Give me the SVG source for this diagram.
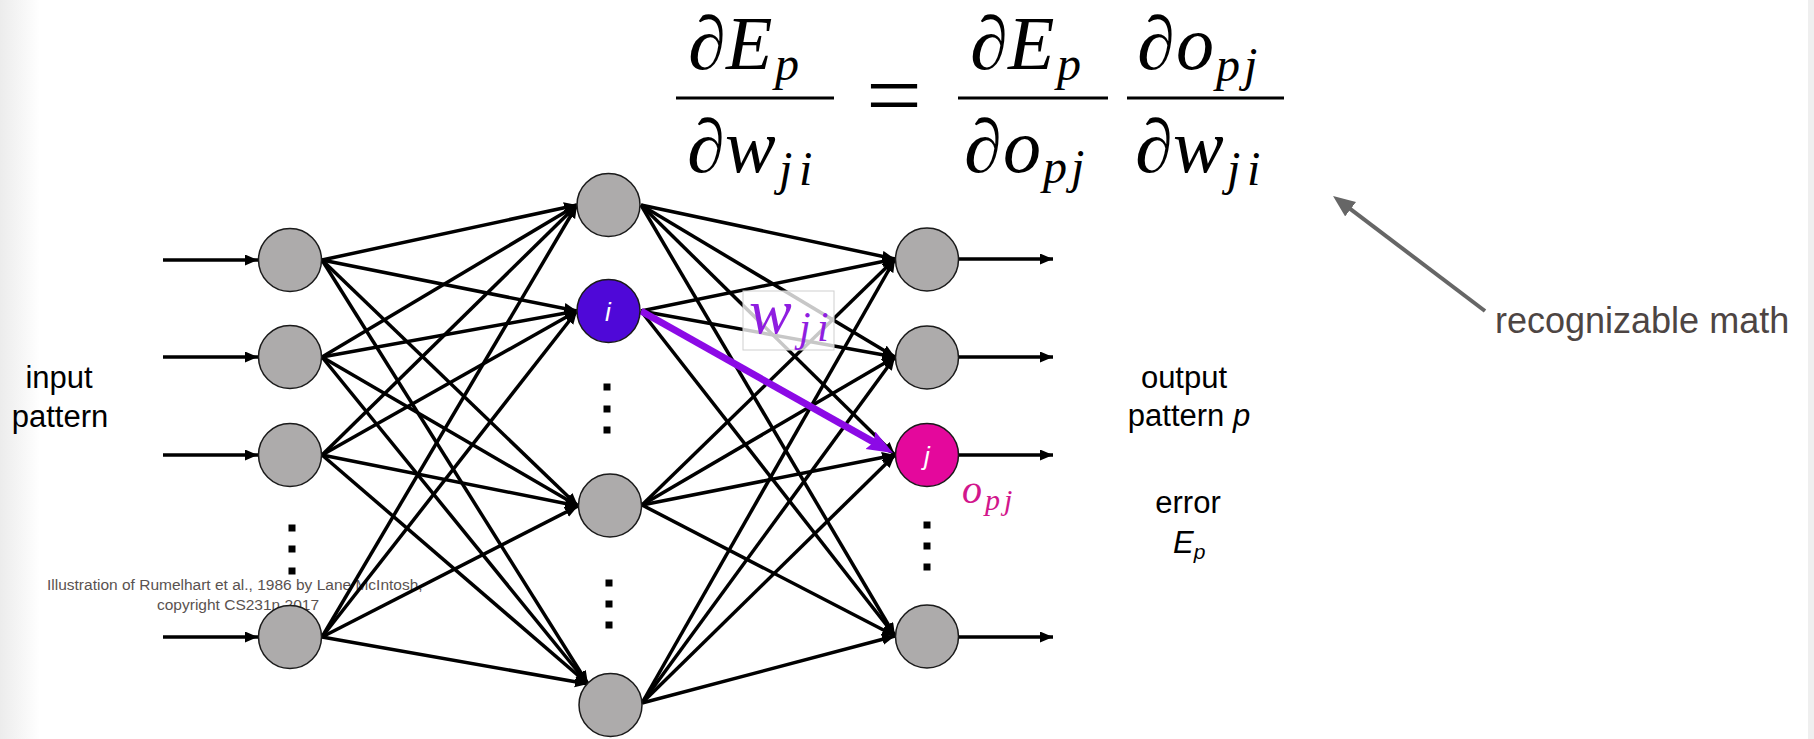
<svg xmlns="http://www.w3.org/2000/svg" width="1814" height="739" viewBox="0 0 1814 739">
<defs>
<linearGradient id="leftShade" x1="0" y1="0" x2="1" y2="0">
<stop offset="0" stop-color="#ececec"/>
<stop offset="1" stop-color="#ffffff"/>
</linearGradient>
<marker id="ah" markerUnits="userSpaceOnUse" markerWidth="14" markerHeight="12" refX="13" refY="5.5" orient="auto">
<path d="M0,0 L13,5.5 L0,11 z" fill="#000"/>
</marker>
<marker id="ahP" markerUnits="userSpaceOnUse" markerWidth="28" markerHeight="22" refX="12" refY="10" orient="auto">
<path d="M0,0 L26,10 L0,20 L4,10 z" fill="#8c0ae6"/>
</marker>
<marker id="ahG" markerUnits="userSpaceOnUse" markerWidth="24" markerHeight="20" refX="10" refY="9" orient="auto">
<path d="M0,0 L22,9 L0,18 z" fill="#666"/>
</marker>
</defs>
<style>
.bg { fill: #fff; }
.node { fill: #adabab; stroke: #1a1a1a; stroke-width: 1.5; }
.ni { fill: #4f08d8; stroke: #1a1a1a; stroke-width: 1.5; }
.nj { fill: #e4089c; stroke: #1a1a1a; stroke-width: 1.5; }
.edge { stroke: #000; stroke-width: 3.5; fill: none; marker-end: url(#ah); }
.dot { fill: #000; }
.lbl { font-family: "Liberation Sans", Arial, sans-serif; font-size: 31px; fill: #000; }
.nl { font-family: "Liberation Sans", Arial, sans-serif; font-size: 26px; font-style: italic; fill: #fff; text-anchor: middle; }
.m { font-family: "Liberation Serif", "DejaVu Serif", serif; font-style: italic; font-size: 76px; fill: #000; }
.s { font-size: 48px; }
.eq { font-family: "Liberation Serif", "DejaVu Serif", serif; font-size: 92px; fill: #000; }
.bar { fill: #000; }
.credit { font-family: "Liberation Sans", Arial, sans-serif; font-size: 15.5px; fill: #5a5250; }
.mp { font-family: "Liberation Serif", "DejaVu Serif", serif; font-style: italic; fill: #8f1ee0; }
.mo { font-family: "Liberation Serif", "DejaVu Serif", serif; font-style: italic; fill: #d2168c; }
</style>
<rect class="bg" x="0" y="0" width="1814" height="739"/>
<rect x="0" y="0" width="40" height="739" fill="url(#leftShade)"/>
<rect x="1808" y="0" width="6" height="739" fill="#efefef"/>

<g id="credit">
<text class="credit" x="47" y="590">Illustration of Rumelhart et al., 1986 by Lane McIntosh,</text>
<text class="credit" x="157" y="610">copyright CS231n 2017</text>
</g>

<g id="equation">
<text class="m"><tspan x="688" y="69">∂</tspan><tspan x="726" y="69">E</tspan><tspan class="s" x="775" y="80">p</tspan></text>
<rect class="bar" x="676" y="96.5" width="158" height="3"/>
<text class="m"><tspan x="687" y="172">∂</tspan><tspan x="725" y="172">w</tspan><tspan class="s" x="779" y="185">j</tspan><tspan class="s" x="799" y="185">i</tspan></text>

<text class="eq" x="866" y="126" textLength="56" lengthAdjust="spacingAndGlyphs">=</text>

<text class="m"><tspan x="970" y="69">∂</tspan><tspan x="1008" y="69">E</tspan><tspan class="s" x="1057" y="80">p</tspan></text>
<rect class="bar" x="958" y="96.5" width="150" height="3"/>
<text class="m"><tspan x="964" y="172">∂</tspan><tspan x="1003" y="172">o</tspan><tspan class="s" x="1043" y="183">p</tspan><tspan class="s" x="1071" y="183">j</tspan></text>

<text class="m"><tspan x="1137" y="69">∂</tspan><tspan x="1176" y="69">o</tspan><tspan class="s" x="1216" y="81">p</tspan><tspan class="s" x="1244" y="81">j</tspan></text>
<rect class="bar" x="1127" y="96.5" width="157" height="3"/>
<text class="m"><tspan x="1135" y="172">∂</tspan><tspan x="1173" y="172">w</tspan><tspan class="s" x="1227" y="185">j</tspan><tspan class="s" x="1247" y="185">i</tspan></text>
</g>

<g id="connectors">
<line class="edge" x1="163" y1="260" x2="258" y2="260"/>
<line class="edge" x1="163" y1="357" x2="258" y2="357"/>
<line class="edge" x1="163" y1="455" x2="258" y2="455"/>
<line class="edge" x1="163" y1="637" x2="258" y2="637"/>

<line class="edge" x1="322" y1="260" x2="577" y2="205"/>
<line class="edge" x1="322" y1="260" x2="577" y2="311"/>
<line class="edge" x1="322" y1="260" x2="578" y2="506"/>
<line class="edge" x1="322" y1="260" x2="588" y2="684"/>
<line class="edge" x1="322" y1="357" x2="577" y2="205"/>
<line class="edge" x1="322" y1="357" x2="577" y2="311"/>
<line class="edge" x1="322" y1="357" x2="578" y2="506"/>
<line class="edge" x1="322" y1="357" x2="588" y2="684"/>
<line class="edge" x1="322" y1="455" x2="577" y2="205"/>
<line class="edge" x1="322" y1="455" x2="577" y2="311"/>
<line class="edge" x1="322" y1="455" x2="578" y2="506"/>
<line class="edge" x1="322" y1="455" x2="588" y2="684"/>
<line class="edge" x1="322" y1="637" x2="577" y2="205"/>
<line class="edge" x1="322" y1="637" x2="577" y2="311"/>
<line class="edge" x1="322" y1="637" x2="578" y2="506"/>
<line class="edge" x1="322" y1="637" x2="588" y2="684"/>

<line class="edge" x1="641" y1="205" x2="895" y2="259"/>
<line class="edge" x1="641" y1="205" x2="895" y2="357"/>
<line class="edge" x1="641" y1="205" x2="895" y2="455"/>
<line class="edge" x1="641" y1="205" x2="895" y2="636"/>
<line class="edge" x1="641" y1="311" x2="895" y2="259"/>
<line class="edge" x1="641" y1="311" x2="895" y2="357"/>
<line class="edge" x1="641" y1="311" x2="895" y2="636"/>
<line class="edge" x1="642" y1="505" x2="895" y2="259"/>
<line class="edge" x1="642" y1="505" x2="895" y2="357"/>
<line class="edge" x1="642" y1="505" x2="895" y2="455"/>
<line class="edge" x1="642" y1="505" x2="895" y2="636"/>
<line class="edge" x1="642" y1="703" x2="895" y2="259"/>
<line class="edge" x1="642" y1="703" x2="895" y2="357"/>
<line class="edge" x1="642" y1="703" x2="895" y2="455"/>
<line class="edge" x1="642" y1="703" x2="895" y2="636"/>

<line class="edge" x1="959" y1="259" x2="1053" y2="259"/>
<line class="edge" x1="959" y1="357" x2="1053" y2="357"/>
<line class="edge" x1="959" y1="455" x2="1053" y2="455"/>
<line class="edge" x1="959" y1="637" x2="1053" y2="637"/>

<line x1="641" y1="311" x2="880.8" y2="446.1" stroke="#8c0ae6" stroke-width="7" marker-end="url(#ahP)"/>

<line x1="1485" y1="311" x2="1342.6" y2="203.2" stroke="#666" stroke-width="4" marker-end="url(#ahG)"/>
</g>

<g id="wji-label">
<rect x="743" y="291" width="91" height="59" fill="#fff" fill-opacity="0.78" stroke="#cfcfcf" stroke-width="1"/>
<text class="mp"><tspan x="749" y="333" font-size="64">w</tspan><tspan x="799" y="341" font-size="42">j</tspan><tspan x="817" y="341" font-size="42">i</tspan></text>
</g>

<g id="input-layer">
<g id="in1"><circle class="node" cx="290" cy="260" r="31.5"/></g>
<g id="in2"><circle class="node" cx="290" cy="357" r="31.5"/></g>
<g id="in3"><circle class="node" cx="290" cy="455" r="31.5"/></g>
<g id="in-dots"><rect class="dot" x="288.5" y="524.5" width="7" height="7"/><rect class="dot" x="288.5" y="545.5" width="7" height="7"/><rect class="dot" x="288.5" y="567.5" width="7" height="7"/></g>
<g id="in4"><circle class="node" cx="290" cy="637" r="31.5"/></g>
</g>

<g id="hidden-layer">
<g id="h1"><circle class="node" cx="608.5" cy="205" r="31.5"/></g>
<g id="node-i"><circle class="ni" cx="608.5" cy="311" r="31.5"/><text class="nl" x="608" y="321">i</text></g>
<g id="h-dots1"><rect class="dot" x="603.5" y="383.5" width="7" height="7"/><rect class="dot" x="603.5" y="405.5" width="7" height="7"/><rect class="dot" x="603.5" y="426.5" width="7" height="7"/></g>
<g id="h3"><circle class="node" cx="610" cy="505.5" r="31.5"/></g>
<g id="h-dots2"><rect class="dot" x="605.5" y="579.5" width="7" height="7"/><rect class="dot" x="605.5" y="600.5" width="7" height="7"/><rect class="dot" x="605.5" y="621.5" width="7" height="7"/></g>
<g id="h4"><circle class="node" cx="610.5" cy="705" r="31.5"/></g>
</g>

<g id="output-layer">
<g id="o1"><circle class="node" cx="927" cy="259.5" r="31.5"/></g>
<g id="o2"><circle class="node" cx="927" cy="357.5" r="31.5"/></g>
<g id="node-j"><circle class="nj" cx="927" cy="455" r="31.5"/><text class="nl" x="927" y="465">j</text></g>
<g id="o-dots"><rect class="dot" x="923.5" y="521.5" width="7" height="7"/><rect class="dot" x="923.5" y="542.5" width="7" height="7"/><rect class="dot" x="923.5" y="563.5" width="7" height="7"/></g>
<g id="o4"><circle class="node" cx="927" cy="636.5" r="31.5"/></g>
</g>

<g id="opj-label">
<text class="mo"><tspan x="962" y="503" font-size="40">o</tspan><tspan x="985" y="510" font-size="30">p</tspan><tspan x="1004" y="510" font-size="30">j</tspan></text>
</g>

<g id="input-label">
<text class="lbl" x="59" y="388" text-anchor="middle">input</text>
<text class="lbl" x="60" y="427" text-anchor="middle">pattern</text>
</g>

<g id="output-label">
<text class="lbl" x="1184" y="388" text-anchor="middle">output</text>
<text class="lbl" x="1189" y="426" text-anchor="middle">pattern <tspan font-style="italic">p</tspan></text>
</g>

<g id="error-label">
<text class="lbl" x="1188" y="513" text-anchor="middle">error</text>
<text class="lbl" x="1173" y="553" font-style="italic">E<tspan font-size="21" dy="6">p</tspan></text>
</g>

<g id="math-note">
<text x="1495" y="333" font-family="Liberation Sans, Arial, sans-serif" font-size="36" fill="#4d4543">recognizable math</text>
</g>
</svg>
